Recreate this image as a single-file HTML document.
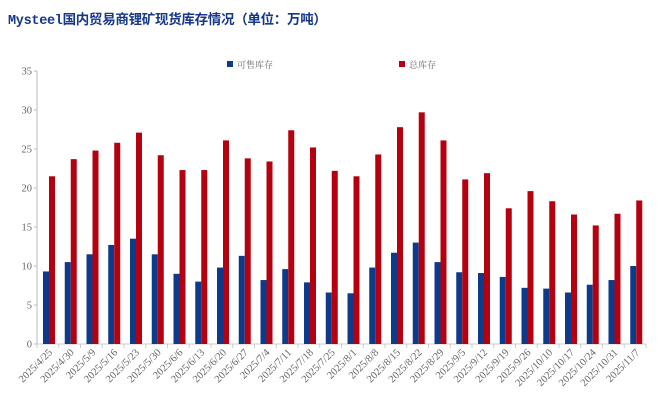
<!DOCTYPE html>
<html><head><meta charset="utf-8"><style>
body{margin:0;background:#fff;width:660px;height:406px;overflow:hidden}
.ax text{font-family:"Liberation Serif",serif;font-size:10.5px;fill:#666}
</style></head><body>
<svg width="660" height="406" xmlns="http://www.w3.org/2000/svg">
<text x="8" y="24" style="font-family:'Liberation Mono','Noto Sans CJK SC',monospace;font-weight:bold;font-size:13.5px;fill:#16378a;letter-spacing:-0.3px">Mysteel国内贸易商锂矿现货库存情况（单位：万吨）</text>
<rect x="227" y="61" width="6" height="6" fill="#0e3a8a"/>
<text x="237" y="68" style="font-family:'Noto Serif CJK SC',serif;font-size:9px;fill:#666">可售库存</text>
<rect x="399" y="61" width="6" height="6" fill="#b5000f"/>
<text x="409" y="68" style="font-family:'Noto Serif CJK SC',serif;font-size:9px;fill:#666">总库存</text>
<g id="ax" class="ax"></g>
</svg>
<script>
const b=[9.3,10.5,11.5,12.7,13.5,11.5,9.0,8.0,9.8,11.3,8.2,9.6,7.9,6.6,6.5,9.8,11.7,13.0,10.5,9.2,9.1,8.6,7.2,7.1,6.6,7.6,8.2,10.0];
const r=[21.5,23.7,24.8,25.8,27.1,24.2,22.3,22.3,26.1,23.8,23.4,27.4,25.2,22.2,21.5,24.3,27.8,29.7,26.1,21.1,21.9,17.4,19.6,18.3,16.6,15.2,16.7,18.4];
const d=["2025/4/25","2025/4/30","2025/5/9","2025/5/16","2025/5/23","2025/5/30","2025/6/6","2025/6/13","2025/6/20","2025/6/27","2025/7/4","2025/7/11","2025/7/18","2025/7/25","2025/8/1","2025/8/8","2025/8/15","2025/8/22","2025/8/29","2025/9/5","2025/9/12","2025/9/19","2025/9/26","2025/10/10","2025/10/17","2025/10/24","2025/10/31","2025/11/7"];
const x0=37,w=21.75,y0=344,s=7.8;let h='';
h+=`<line x1="${x0}" y1="71" x2="${x0}" y2="${y0}" stroke="#bbb"/>`;
h+=`<line x1="${x0}" y1="${y0}" x2="${x0+28*w}" y2="${y0}" stroke="#ccc"/>`;
for(let v=0;v<=35;v+=5){const y=y0-v*s;h+=`<line x1="${x0-3}" y1="${y}" x2="${x0}" y2="${y}" stroke="#bbb"/><text x="${x0-5}" y="${y+3.5}" text-anchor="end">${v}</text>`;}
for(let i=0;i<=28;i++){const x=x0+i*w;h+=`<line x1="${x}" y1="${y0}" x2="${x}" y2="${y0+4}" stroke="#ccc"/>`;}
for(let i=0;i<28;i++){const x=x0+i*w;
h+=`<rect x="${x+6}" y="${y0-b[i]*s}" width="6" height="${b[i]*s}" fill="#0e3a8a"/>`;
h+=`<rect x="${x+12}" y="${y0-r[i]*s}" width="6" height="${r[i]*s}" fill="#b5000f"/>`;
const cx=x+w/2+5,cy=y0+9;
h+=`<text transform="translate(${cx},${cy}) rotate(-45)" text-anchor="end">${d[i]}</text>`;}
document.getElementById('ax').innerHTML=h;
</script>
</body></html>
